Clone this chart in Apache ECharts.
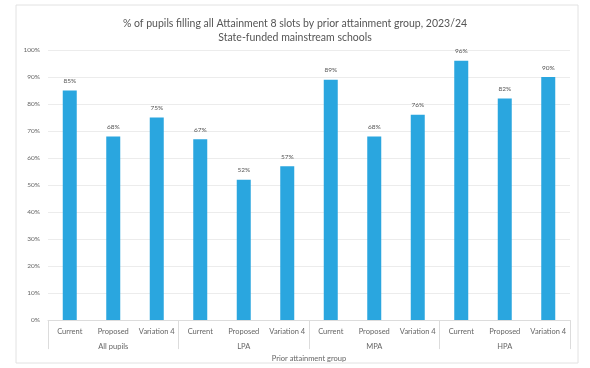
<!DOCTYPE html>
<html><head><meta charset="utf-8">
<script src="https://cdn.jsdelivr.net/npm/echarts@6/dist/echarts.min.js"></script>
<style>html,body{margin:0;padding:0;background:#fff}#c{width:590px;height:368px}</style>
</head><body><div id="c"></div>
<script>
const groups = ['All pupils', 'LPA', 'MPA', 'HPA'];
const scenarios = ['Current', 'Proposed', 'Variation 4'];
const values = [85, 68, 75, 67, 52, 57, 89, 68, 76, 96, 82, 90];
const yTicks = [0, 10, 20, 30, 40, 50, 60, 70, 80, 90, 100];

const cats = [];
groups.forEach(g => scenarios.forEach(s => cats.push(s)));

const chart = echarts.init(document.getElementById('c'));
const font = 'Lato, "Open Sans", sans-serif';
chart.setOption({
  animation: false,
  textStyle: { fontFamily: font },
  title: {
    text: '% of pupils filling all Attainment 8 slots by prior attainment group, 2023/24\nState-funded mainstream schools',
    left: 'center', top: 12,
    textStyle: { fontSize: 10.5, fontWeight: 'normal', color: '#555', lineHeight: 14, fontFamily: font }
  },
  graphic: [{
    type: 'rect', shape: { x: 16, y: 5, width: 562, height: 358 },
    style: { fill: 'none', stroke: '#e2e2e2', lineWidth: 1 }, silent: true, z: -1
  }],
  grid: { left: 48, right: 20, top: 50, bottom: 47 },
  xAxis: [{
    type: 'category', data: cats, position: 'bottom',
    axisLine: { show: true, lineStyle: { color: '#dcdcdc' } },
    axisTick: { show: false },
    axisLabel: { color: '#666', fontSize: 7.5, margin: 7, interval: 0, fontFamily: font }
  }, {
    type: 'category', data: groups, position: 'bottom',
    axisLine: { show: false },
    axisTick: { show: true, length: 29, lineStyle: { color: '#dcdcdc' } },
    axisLabel: { color: '#666', fontSize: 7.5, margin: 22, fontFamily: font },
    name: 'Prior attainment group', nameLocation: 'middle', nameGap: 33,
    nameTextStyle: { color: '#666', fontSize: 7.5, fontFamily: font }
  }],
  yAxis: {
    type: 'value', min: 0, max: 100, interval: 10,
    axisLabel: { formatter: v => yTicks.includes(v) ? v + '%' : '', color: '#666', fontSize: 6.5, margin: 8, fontFamily: font },
    axisLine: { show: false }, axisTick: { show: false },
    splitLine: { lineStyle: { color: '#ececec' } }
  },
  series: [{
    type: 'bar', data: values, xAxisIndex: 0, barWidth: 14,
    itemStyle: { color: '#2aa6df' },
    label: { show: true, position: 'top', formatter: '{c}%', color: '#555', fontSize: 6.5, distance: 6, fontFamily: font }
  }]
});
</script></body></html>
